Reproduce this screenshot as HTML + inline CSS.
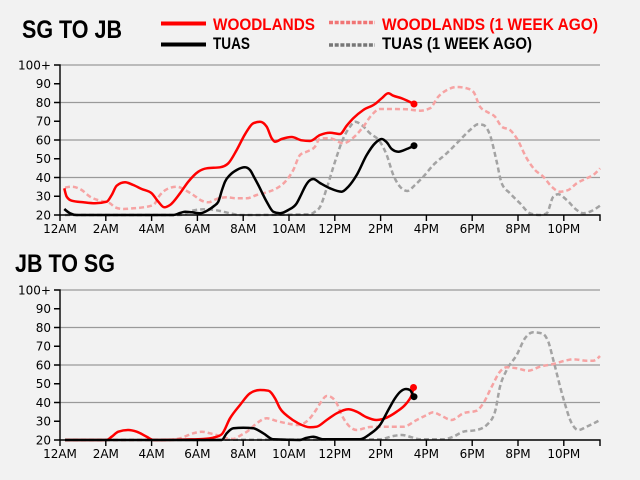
<!DOCTYPE html>
<html><head><meta charset="utf-8"><style>
html,body{margin:0;padding:0;background:#f2f2f2;}
svg{display:block;}
.ax{font-family:"DejaVu Sans","Liberation Sans",sans-serif;font-size:12px;fill:#000;}
.tt{font-family:"Liberation Sans",sans-serif;font-weight:bold;}
</style></head><body>
<svg id="c" width="640" height="480" viewBox="0 0 640 480" xmlns="http://www.w3.org/2000/svg">
<rect width="640" height="480" fill="#f2f2f2"/>
<text class="tt" x="22" y="38" font-size="25" textLength="100" lengthAdjust="spacingAndGlyphs" fill="#000">SG TO JB</text>
<text class="tt" x="15" y="272" font-size="25" textLength="100" lengthAdjust="spacingAndGlyphs" fill="#000">JB TO SG</text>
<line x1="161" y1="23.5" x2="206" y2="23.5" stroke="#ff0000" stroke-width="4"/>
<line x1="161" y1="44.5" x2="206" y2="44.5" stroke="#000" stroke-width="4"/>
<line x1="329" y1="22.5" x2="375" y2="22.5" stroke="#f07575" stroke-width="3.5" stroke-dasharray="4,1.7"/>
<line x1="329" y1="45" x2="375" y2="45" stroke="#777" stroke-width="3.5" stroke-dasharray="4,1.7"/>
<text class="tt" x="213" y="30" font-size="16.5" textLength="102" lengthAdjust="spacingAndGlyphs" fill="#ff0000">WOODLANDS</text>
<text class="tt" x="213" y="49" font-size="16.5" textLength="37" lengthAdjust="spacingAndGlyphs" fill="#000">TUAS</text>
<text class="tt" x="382" y="30" font-size="16.5" textLength="216" lengthAdjust="spacingAndGlyphs" fill="#ff0000">WOODLANDS (1 WEEK AGO)</text>
<text class="tt" x="382" y="49" font-size="16.5" textLength="150" lengthAdjust="spacingAndGlyphs" fill="#000">TUAS (1 WEEK AGO)</text>

<!-- ===== TOP CHART ===== -->
<g stroke="#9a9a9a" stroke-width="1.2">
<line x1="60" y1="65" x2="600" y2="65"/><line x1="60" y1="102.5" x2="600" y2="102.5"/>
<line x1="60" y1="140" x2="600" y2="140"/><line x1="60" y1="177.5" x2="600" y2="177.5"/>
</g>
<g fill="none" stroke-linejoin="round" stroke-linecap="butt" stroke-width="2.5">
<polyline class="s" stroke="#a3a3a3" stroke-dasharray="5,3" points="65,215 180,215 193.3,210.5 203.3,209.3 216.7,210.3 230,213.3 240,215 310,214.3 315,211.7 320,207 326.7,188.3 335,161.7 343.3,138.3 350,126.7 355,121.7 361.7,125 370,133.3 380,141.7 386.7,155 393.3,175 400,186.7 407.3,191 415,185 423.3,176.7 433.3,165 446.7,153.3 460,140 470,130 478.3,124.3 483.3,125 490,135 496.7,161.7 501.7,183.3 510,193.3 520,203.3 530,213.3 540,215 546.7,213.3 553.3,196.7 558.3,194.3 566.7,200 576.7,210 583.3,213.3 590,211.7 600,205.7"/>
<polyline class="s" stroke="#f6a3a3" stroke-dasharray="5,3" points="65,187.7 71.7,186.7 81.7,190 90,196.7 100,200.7 110,203.3 115,207.3 123.3,209 133.3,208.3 143.3,207.3 153.3,205 160,195 166.7,189.3 176.7,186.7 185,190 193.3,195 201.7,200.7 208.3,202.3 216.7,199 226.7,197.3 236.7,198.3 246.7,198.3 256.7,195 266.7,192.3 276.7,188.3 286.7,180 293.3,170 300,155 306.7,151.7 315,146.7 320,138.5 330,138.3 343.3,143.3 353.3,137.7 363.3,126.7 371.7,115 380,109 393.3,109 406.7,109.3 420,110.7 430,108.3 438.3,96.7 448.3,89.3 456.7,87 466.7,88.3 473.3,91.7 480,106.7 486.7,111.7 495,116.7 501.7,126.7 510,130 516.7,138.3 526.7,158.3 535,170 543.3,176.7 551.7,186.7 560,191.7 568.3,190 576.7,183.3 586.7,178.3 593.3,175 600,168.3"/>
<polyline class="s" stroke="#000" points="64.3,209 70,213.3 76.7,215 173.3,215 180,213 185,211.7 191.7,212.3 200,213.3 208.3,210 214,206 218.3,201.7 222,190 225,181.7 230,175 236.7,170 245,167.3 250,170 254,177 258.3,185 266.7,201.7 273.3,211.7 280,213.3 288.3,210 296.7,203.3 301,195 305,186.7 309,181 313.3,179 320,183 330,188.3 341.7,191.7 348.3,186.7 356.7,175 366.7,155 375,143.3 381.7,139 386.7,142.3 391.7,149 398.3,151.7 406.7,149 414,145.7"/>
<polyline class="s" stroke="#ff0000" points="64.3,188.3 66.7,196.7 71.7,200.7 83.3,202.3 95,203.3 106.7,201.7 111.7,195 116.7,185.7 125,182.3 133.3,185 141.7,189 151.7,193.3 158.3,201.7 164.3,207.3 170,205 180,193.3 188.3,181.7 198.3,171.7 206.7,168.3 220,167.3 228.3,163.3 236.7,150 245,134.3 253.3,123.3 260,121.7 266.7,126.7 271.7,138.3 275,141.7 281.7,139 291.7,137 301.7,140.3 310,141 320,135 330,132.7 340,134 346.7,125.7 353.3,118.3 363.3,110 375,104 381.7,98.3 388.3,93.3 393.3,95.7 401.7,98.3 414,104"/>
</g>
<circle cx="414" cy="104" r="3.5" fill="#ff0000"/>
<circle cx="414" cy="145.7" r="3.5" fill="#000"/>
<g stroke="#000" stroke-width="1.4" fill="none">
<path d="M54,65H60V215H54"/>
<path d="M54,83.75H60M54,102.5H60M54,121.25H60M54,140H60M54,158.75H60M54,177.5H60M54,196.25H60"/>
<path d="M60,221V215H600V221"/>
<path d="M105.8,215V221M151.6,215V221M197.4,215V221M243.2,215V221M289,215V221M334.8,215V221M380.6,215V221M426.4,215V221M472.2,215V221M518,215V221M563.8,215V221"/>
</g>
<g class="ax" text-anchor="end">
<text x="51" y="69.5">100+</text><text x="51" y="88.2">90</text><text x="51" y="107">80</text><text x="51" y="125.7">70</text>
<text x="51" y="144.5">60</text><text x="51" y="163.2">50</text><text x="51" y="182">40</text><text x="51" y="200.7">30</text><text x="51" y="219.5">20</text>
</g>
<g class="ax" text-anchor="middle">
<text x="60" y="233">12AM</text><text x="105.8" y="233">2AM</text><text x="151.6" y="233">4AM</text><text x="197.4" y="233">6AM</text>
<text x="243.2" y="233">8AM</text><text x="289" y="233">10AM</text><text x="334.8" y="233">12PM</text><text x="380.6" y="233">2PM</text>
<text x="426.4" y="233">4PM</text><text x="472.2" y="233">6PM</text><text x="518" y="233">8PM</text><text x="563.8" y="233">10PM</text>
</g>

<!-- ===== BOTTOM CHART ===== -->
<g stroke="#9a9a9a" stroke-width="1.2">
<line x1="60" y1="290" x2="600" y2="290"/><line x1="60" y1="327.5" x2="600" y2="327.5"/>
<line x1="60" y1="365" x2="600" y2="365"/><line x1="60" y1="402.5" x2="600" y2="402.5"/>
</g>
<g fill="none" stroke-linejoin="round" stroke-linecap="butt" stroke-width="2.5">
<polyline class="s" stroke="#a3a3a3" stroke-dasharray="5,3" points="65,440 320,439.5 340,439.3 380,439.3 393.3,436 401.7,435 411.7,437.3 420,439.3 443.3,439.3 453.3,436.7 463.3,431.7 476.7,430 486.7,425 495,411.7 500,386.7 506.7,370 516.7,355 525,338.3 533.3,332.3 541.7,333.3 548.3,341.7 553.3,360 563.3,398.3 571.7,423.3 578.3,430 586.7,426.7 600,420"/>
<polyline class="s" stroke="#f6a3a3" stroke-dasharray="5,3" points="65,440 166.7,440 180,438.3 193.3,433.3 201.7,431.7 210,433.3 220,436 226.7,438.3 233.3,439 240,435.7 248.3,430.7 256.7,423.3 266.7,418.3 276.7,421 286.7,423.3 298.3,425 308.3,420 316,410 321,402 326.7,396 331,397 336.7,403.3 341.7,415 346.7,423.3 356.7,430 370,427 386.7,426.7 403.3,426.7 416.7,420 426.7,415 433.3,412.3 440,415 451.7,420 463.3,413.3 476.7,410.7 483.3,403.3 491.7,386.7 500,371.7 506.7,367.3 516.7,368.3 528.3,370.7 540,366.7 553.3,364 565,360.7 573.3,359.3 586.7,360.7 593.3,360.7 600,356"/>
<polyline class="s" stroke="#ff0000" points="65,440 106.7,440 111.7,436.7 118.3,431.7 128.3,430 136.7,431.7 146.7,436.7 153.3,440 186.7,439.5 203.3,439 213.3,437.7 221.7,434.3 230,418.3 240,405 250,393.3 260,390 268.3,390.7 275,398.3 280,408.3 288.3,416.7 298.3,423.3 310,427.3 316.7,426.7 326.7,420 336.7,413.3 348.3,409.3 356.7,411.7 366.7,417.3 376.7,420 385,418.3 396.7,411.7 405,405 409,400 411.7,395 413.5,387.5"/>
<polyline class="s" stroke="#000" points="65,440 221.7,440 226.7,433.3 233.3,428.3 243.3,427.7 253.3,428.3 263.3,433.3 273.3,439.3 300,440 306,438 313.3,436.7 323.3,439.3 360,439.3 370,434 380,425 388.3,410 395,398.3 400,392 406,389 410,390 412,393 414,396.7"/>
</g>
<circle cx="413.5" cy="387.5" r="3.5" fill="#ff0000"/>
<circle cx="414" cy="396.7" r="3.5" fill="#000"/>
<g stroke="#000" stroke-width="1.4" fill="none">
<path d="M54,290H60V440H54"/>
<path d="M54,308.75H60M54,327.5H60M54,346.25H60M54,365H60M54,383.75H60M54,402.5H60M54,421.25H60"/>
<path d="M60,446V440H600V446"/>
<path d="M105.8,440V446M151.6,440V446M197.4,440V446M243.2,440V446M289,440V446M334.8,440V446M380.6,440V446M426.4,440V446M472.2,440V446M518,440V446M563.8,440V446"/>
</g>
<g class="ax" text-anchor="end">
<text x="51" y="294.5">100+</text><text x="51" y="313.2">90</text><text x="51" y="332">80</text><text x="51" y="350.7">70</text>
<text x="51" y="369.5">60</text><text x="51" y="388.2">50</text><text x="51" y="407">40</text><text x="51" y="425.7">30</text><text x="51" y="444.5">20</text>
</g>
<g class="ax" text-anchor="middle">
<text x="60" y="458">12AM</text><text x="105.8" y="458">2AM</text><text x="151.6" y="458">4AM</text><text x="197.4" y="458">6AM</text>
<text x="243.2" y="458">8AM</text><text x="289" y="458">10AM</text><text x="334.8" y="458">12PM</text><text x="380.6" y="458">2PM</text>
<text x="426.4" y="458">4PM</text><text x="472.2" y="458">6PM</text><text x="518" y="458">8PM</text><text x="563.8" y="458">10PM</text>
</g>
</svg>
<script>
(function(){
try{
var NS='http://www.w3.org/2000/svg';
var pls=document.querySelectorAll('polyline.s');
for(var k=0;k<pls.length;k++){
 var pl=pls[k];
 var raw=pl.getAttribute('points').trim().split(/\s+/);
 var P=[];for(var i=0;i<raw.length;i++){var a=raw[i].split(',');P.push([+a[0],+a[1]]);}
 var n=P.length; if(n<3) continue;
 var sec=[];for(i=0;i<n-1;i++){var h=P[i+1][0]-P[i][0];sec.push(h? (P[i+1][1]-P[i][1])/h : 0);}
 var m=new Array(n);
 for(i=1;i<n-1;i++){
  var h0=P[i][0]-P[i-1][0],h1=P[i+1][0]-P[i][0],s0=sec[i-1],s1=sec[i];
  var p=(h0+h1)?(s0*h1+s1*h0)/(h0+h1):0;
  m[i]=((s0>0?1:s0<0?-1:0)+(s1>0?1:s1<0?-1:0))*Math.min(Math.abs(s0),Math.abs(s1),0.5*Math.abs(p))||0;
 }
 m[0]=(3*sec[0]-m[1])/2; m[n-1]=(3*sec[n-2]-m[n-2])/2;
 var d='M'+P[0][0]+','+P[0][1];
 for(i=0;i<n-1;i++){
  var dx=(P[i+1][0]-P[i][0])/3;
  d+='C'+(P[i][0]+dx)+','+(P[i][1]+m[i]*dx)+' '+(P[i+1][0]-dx)+','+(P[i+1][1]-m[i+1]*dx)+' '+P[i+1][0]+','+P[i+1][1];
 }
 if(d.indexOf('NaN')>=0) continue;
 var path=document.createElementNS(NS,'path');
 for(var j=0;j<pl.attributes.length;j++){var at=pl.attributes[j];if(at.name!=='points'&&at.name!=='class')path.setAttribute(at.name,at.value);}
 path.setAttribute('d',d);
 pl.parentNode.replaceChild(path,pl);
}
}catch(e){}
})();
</script>
</body></html>
